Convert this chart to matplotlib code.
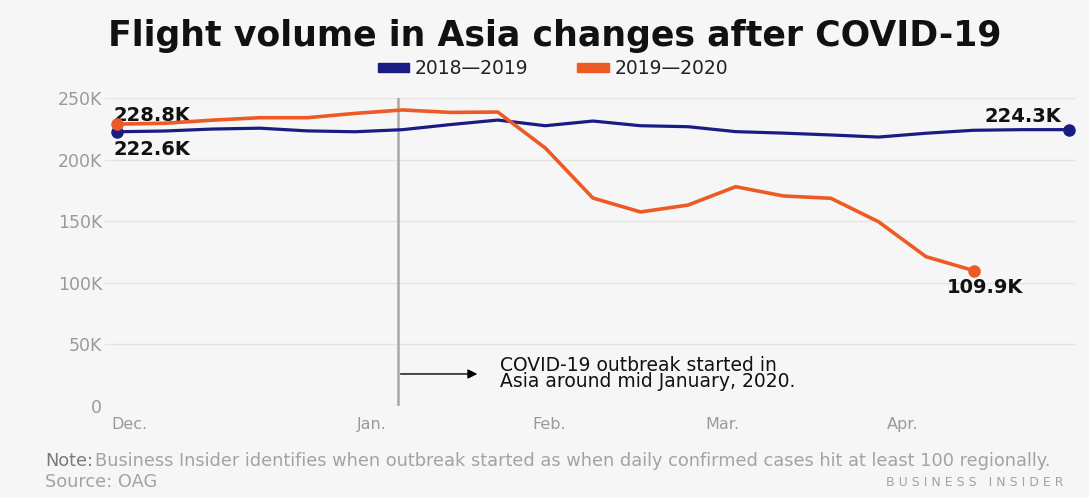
import matplotlib
matplotlib.use("Agg")
import matplotlib.pyplot as plt
from matplotlib.patches import Patch

# ---- data (thousands of flights, weekly) ----
series_names = ["2018\u20142019", "2019\u20142020"]
vol_2018_2019 = [222.6, 223.2, 224.8, 225.5, 223.3, 222.6, 224.3, 228.4, 232.1, 227.5,
                 231.3, 227.5, 226.7, 222.7, 221.5, 220.0, 218.3, 221.4, 223.8, 224.3, 224.3]
vol_2019_2020 = [228.8, 229.5, 232.0, 234.0, 234.0, 237.5, 240.3, 238.3, 238.6, 209.4,
                 168.8, 157.5, 163.1, 178.0, 170.5, 168.6, 149.6, 121.2, 109.9]
month_labels = ["Dec.", "Jan.", "Feb.", "Mar.", "Apr."]
month_pos = [0.27, 5.36, 9.08, 12.73, 16.51]
y_ticks = [0, 50, 100, 150, 200, 250]
y_tick_labels = ["0", "50K", "100K", "150K", "200K", "250K"]
outbreak_pos = 5.90

BLUE = "#1b1b84"
ORANGE = "#ee5a24"
BG = "#f6f6f6"
FONT = "DejaVu Sans"

W, H = 1089, 498
fig = plt.figure(figsize=(W / 100, H / 100), dpi=100, facecolor=BG)

def fx(px):
    return px / W

def fy(py):
    return 1 - py / H

ax = fig.add_axes([fx(105), fy(406), fx(1075) - fx(105), fy(98) - fy(406)])
ax.set_facecolor(BG)

x_blue = list(range(len(vol_2018_2019)))
x_orange = list(range(len(vol_2019_2020)))

ax.plot(x_blue, vol_2018_2019, color=BLUE, lw=2.3, solid_joinstyle="miter", zorder=3, clip_on=False)
ax.plot(x_orange, vol_2019_2020, color=ORANGE, lw=2.6, solid_joinstyle="miter", zorder=4, clip_on=False)
for xs, ys, c in [(x_blue, vol_2018_2019, BLUE), (x_orange, vol_2019_2020, ORANGE)]:
    ax.plot([xs[0], xs[-1]], [ys[0], ys[-1]], "o", color=c, ms=8, zorder=5, clip_on=False)

ax.set_xlim(-0.252, 20.13)
ax.set_ylim(0, 250)

ax.set_yticks(y_ticks)
ax.set_yticklabels(y_tick_labels)
ax.set_xticks(month_pos)
ax.set_xticklabels(month_labels)
ax.tick_params(axis="both", length=0, colors="#9a9a9a")
ax.tick_params(axis="y", pad=2, labelsize=12.5)
ax.tick_params(axis="x", pad=8, labelsize=11.5)
for lab in ax.get_xticklabels() + ax.get_yticklabels():
    lab.set_family(FONT)
ax.grid(axis="y", color="#e4e4e4", lw=1)
ax.set_axisbelow(True)
for s in ax.spines.values():
    s.set_visible(False)

# outbreak line and annotation
ax.axvline(outbreak_pos, color="#a8a8a8", lw=1.8, zorder=2)
ax.annotate("", xy=(7.63, 26), xytext=(outbreak_pos, 26),
            arrowprops=dict(arrowstyle="-|>", color="black", lw=1.0, mutation_scale=14))
ax.text(8.05, 26.5, "COVID-19 outbreak started in\nAsia around mid January, 2020.",
        va="center", ha="left", fontsize=13.5, color="#111111", family=FONT,
        linespacing=0.82)

# end labels
lab_kw = dict(fontsize=14, fontweight="bold", color="#111111", family=FONT)
ax.text(-0.08, vol_2019_2020[0] + 6.6, "228.8K", ha="left", va="center", **lab_kw)
ax.text(-0.08, vol_2018_2019[0] - 14.8, "222.6K", ha="left", va="center", **lab_kw)
ax.text(19.85, vol_2018_2019[-1] + 10.3, "224.3K", ha="right", va="center", **lab_kw)
ax.text(18.24, vol_2019_2020[-1] - 14.1, "109.9K", ha="center", va="center", **lab_kw)

# title
fig.text(fx(555), fy(36), "Flight volume in Asia changes after COVID-19",
         ha="center", va="center", fontsize=25, fontweight="bold", color="#111111",
         family=FONT)

# legend
handles = [Patch(color=BLUE, label=series_names[0]), Patch(color=ORANGE, label=series_names[1])]
leg = fig.legend(handles=handles, loc="center", bbox_to_anchor=(fx(553), fy(69)), ncol=2,
                 frameon=False, fontsize=13.5, handlelength=1.7, handleheight=0.38,
                 handletextpad=0.3, columnspacing=2.6, borderpad=0)
for t in leg.get_texts():
    t.set_color("#222222")
    t.set_family(FONT)

# notes
note_y = fy(461)
fig.text(fx(45), note_y, "Note:", ha="left", va="center", fontsize=12.8, color="#7a7a7a",
         family=FONT)
fig.text(fx(95), note_y,
         "Business Insider identifies when outbreak started as when daily confirmed cases hit at least 100 regionally.",
         ha="left", va="center", fontsize=12.8, color="#a3a3a3", family=FONT)
fig.text(fx(45), fy(482), "Source: OAG", ha="left", va="center", fontsize=12.8, color="#a3a3a3",
         family=FONT)
fig.text(fx(1063), fy(482), "B U S I N E S S   I N S I D E R", ha="right", va="center", fontsize=9,
         color="#a3a3a3", family=FONT)

fig.savefig("out.png", dpi=100, facecolor=BG)
